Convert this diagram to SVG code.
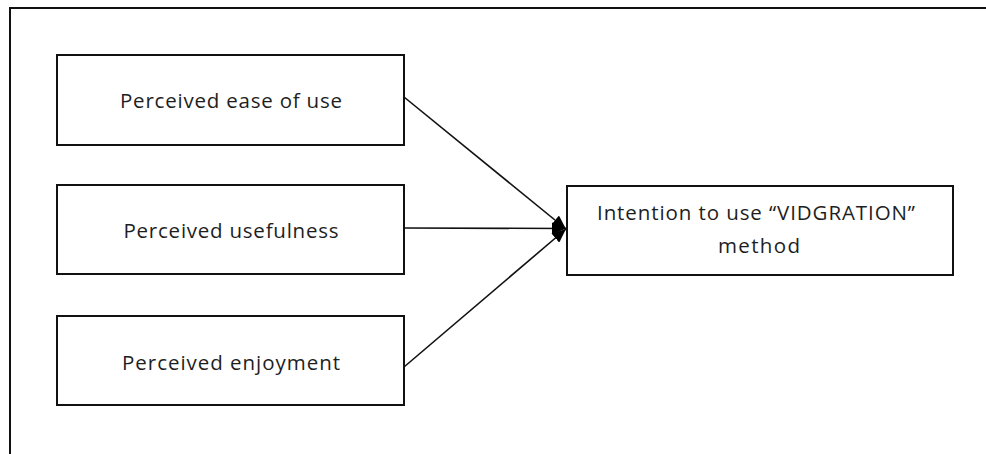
<svg xmlns="http://www.w3.org/2000/svg" width="986" height="454" viewBox="0 0 986 454">
  <style>
    .box { fill: #ffffff; stroke: #111111; stroke-width: 2; }
    .label { font-family: "Open Sans", "Noto Sans", "DejaVu Sans", sans-serif; font-size: 20.5px; fill: #1e1e1e; text-anchor: middle; }
    .link { stroke: #111111; stroke-width: 1.6; fill: none; marker-end: url(#head); }
  </style>
  <defs>
    <marker id="head" viewBox="0 0 14 12" refX="14" refY="6" markerWidth="14" markerHeight="12" markerUnits="userSpaceOnUse" orient="auto">
      <path d="M0,0 L14,6 L0,12 Z" fill="#000000"/>
    </marker>
  </defs>
  <rect width="986" height="454" fill="#ffffff"/>
  <!-- frame: top and left edges -->
  <path d="M10,986 L10,8 L986,8" fill="none" stroke="#111111" stroke-width="2"/>

  <g id="connectors">
    <line class="link" x1="404" y1="97" x2="566" y2="229"/>
    <line class="link" x1="404" y1="228" x2="566" y2="228.5"/>
    <line class="link" x1="404" y1="367" x2="566" y2="229"/>
  </g>

  <g id="ease">
    <rect class="box" x="57" y="55" width="347" height="90"/>
    <text class="label" x="231" y="108" textLength="222" lengthAdjust="spacing">Perceived ease of use</text>
  </g>
  <g id="usefulness">
    <rect class="box" x="57" y="185" width="347" height="89"/>
    <text class="label" x="231" y="238" textLength="215" lengthAdjust="spacing">Perceived usefulness</text>
  </g>
  <g id="enjoyment">
    <rect class="box" x="57" y="316" width="347" height="89"/>
    <text class="label" x="231" y="370" textLength="218" lengthAdjust="spacing">Perceived enjoyment</text>
  </g>
  <g id="intention">
    <rect class="box" x="567" y="186" width="386" height="89"/>
    <text class="label" x="756" y="220" textLength="318" lengthAdjust="spacing">Intention to use “VIDGRATION”</text>
    <text class="label" x="759" y="253" textLength="82" lengthAdjust="spacing">method</text>
  </g>
</svg>
